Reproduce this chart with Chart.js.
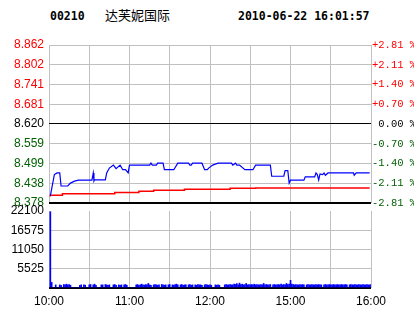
<!DOCTYPE html>
<html>
<head>
<meta charset="utf-8">
<script src="https://cdn.jsdelivr.net/npm/chart.js@4.4.0/dist/chart.umd.min.js"></script>
<style>
    body { margin: 0; background: #fff; width: 414px; height: 314px; overflow: hidden; position: relative; }
    canvas { position: absolute; left: 0; top: 0; }
    .hd { position: absolute; top: 11px; font: bold 11.5px "DejaVu Sans Mono", monospace; line-height: 11px; color: #000; }
    #name { position: absolute; left: 105px; top: 8px; font: 13px "Noto Sans CJK SC", sans-serif; line-height: 13px; color: #000; }
</style>
</head>
<body>
<div class="hd" style="left:50px">00210</div>
<div id="name">达芙妮国际</div>
<div class="hd" style="left:238px">2010-06-22 16:01:57</div>
<canvas id="price-chart" width="414" height="314"></canvas>
<canvas id="volume-chart" width="414" height="314"></canvas>
<script>
// eje de precios (de abajo hacia arriba), cierre anterior 8.620
var priceLabels = ['8.378', '8.438', '8.499', '8.559', '8.620', '8.681', '8.741', '8.802', '8.862'];
var pctLabels = ['-2.81', '-2.11', '-1.40', '-0.70', '0.00', '+0.70', '+1.40', '+2.11', '+2.81'];
var priceMin = 8.378, priceMax = 8.862;

// eje de tiempo: minutos desde las 10:00 (mañana 10:00-12:30, tarde 14:30-16:00)
var timeLabels = ['10:00', '', '11:00', '', '12:00', '', '15:00', '', '16:00'];

// precio (línea azul)
var lineMinutes = [1, 4, 6, 8, 9, 14, 16, 19, 22, 32, 33, 33.5, 34, 42, 43, 45, 48, 50, 53, 55, 57, 59, 60,
    75, 76, 77, 80, 81, 85, 86, 93, 96, 104, 105, 106, 107, 114, 116, 118, 119, 122, 126, 136, 137, 139, 140,
    142, 146, 152, 154, 165, 166, 175, 176, 178, 179, 180, 190, 191, 198, 199, 200, 201, 202, 204, 205, 206,
    208, 227, 227.5, 229, 239];
var linePrices = [8.400, 8.465, 8.470, 8.470, 8.430, 8.430, 8.439, 8.445, 8.448, 8.448, 8.470, 8.445, 8.449,
    8.449, 8.470, 8.485, 8.494, 8.483, 8.494, 8.480, 8.480, 8.470, 8.494, 8.494, 8.500, 8.494, 8.494, 8.500,
    8.500, 8.480, 8.480, 8.500, 8.500, 8.494, 8.494, 8.500, 8.500, 8.480, 8.480, 8.485, 8.494, 8.500, 8.500,
    8.494, 8.500, 8.494, 8.494, 8.480, 8.480, 8.494, 8.494, 8.460, 8.460, 8.477, 8.477, 8.439, 8.448, 8.448,
    8.458, 8.458, 8.470, 8.465, 8.448, 8.467, 8.465, 8.470, 8.463, 8.470, 8.470, 8.463, 8.470, 8.470];

// precio promedio (línea roja)
var avgMinutes = [1, 10, 49, 67, 78, 101, 135, 154, 191, 239];
var avgPrices = [8.398, 8.402, 8.406, 8.410, 8.414, 8.417, 8.420, 8.423, 8.424, 8.424];

// volumen por minuto desde las 10:01
var volTickLabels = ['', '5525', '11050', '16575', '22100'];
var volumes = [
    21900, 1600, 0, 0, 900, 0, 0, 900, 800, 0, 1000, 900, 1100, 900, 1000, 800, 0, 0, 0, 0, 0, 0, 800, 900, 0, 900, 800, 0, 0, 900,
    1000, 0, 900, 1100, 800, 0, 0, 0, 900, 900, 0, 1000, 900, 800, 900, 0, 0, 900, 1000, 800, 0, 900, 800, 900, 0, 900, 1000, 800, 0, 0,
    0, 0, 0, 0, 900, 1000, 800, 900, 1100, 900, 800, 1000, 900, 1300, 900, 800, 0, 900, 1000, 900, 800, 900, 0, 1000, 900, 800, 900, 0, 900, 1000,
    0, 900, 800, 1000, 1100, 900, 0, 900, 1000, 800, 900, 900, 0, 900, 1000, 800, 900, 0, 900, 800, 1000, 900, 900, 800, 0, 900, 1000, 900, 800, 900,
    800, 0, 0, 900, 800, 900, 800, 0, 0, 0, 900, 1000, 900, 900, 1000, 900, 900, 1100, 1000, 1300, 900, 1400, 1000, 1100, 900, 1000, 1300, 900, 1000, 900,
    1000, 900, 1100, 900, 1000, 900, 900, 1000, 900, 1300, 900, 1000, 900, 900, 1000, 0, 900, 1000, 900, 900, 1000, 900, 1100, 900, 1000, 900, 1300, 1000, 1100, 2200,
    1100, 1000, 900, 1000, 900, 900, 1000, 900, 1000, 900, 0, 900, 1000, 900, 900, 1000, 900, 900, 1000, 900, 1000, 900, 900, 0, 900, 1000, 900, 900, 1000, 900,
    900, 1000, 900, 900, 1000, 900, 900, 1000, 900, 900, 1000, 900, 0, 900, 1000, 900, 900, 1000, 900, 900, 1000, 900, 900, 1000, 900, 900, 1000, 900, 900, 1000
];

var GRIS = '#c0c0c0';
var ROJO = '#ff0000';
var VERDE = '#005f00';
var fuenteEje = { family: '"Liberation Sans", Arial, sans-serif', size: 12 };

function colorEtiqueta(i) {
    if (i > 4) return ROJO;
    if (i === 4) return '#000';
    return VERDE;
}

function ticksPrecio(s) {
    s.ticks = priceLabels.map(function (e, i) {
        return { value: priceMin + i * (priceMax - priceMin) / 8 };
    });
}

// gráfico de precios
new Chart(document.getElementById('price-chart'), {
    type: 'line',
    data: {
        datasets: [{
            data: lineMinutes.map(function (m, i) { return { x: m, y: linePrices[i] }; }),
            borderColor: '#0000ff',
            borderWidth: 1.2,
            pointRadius: 0,
            tension: 0,
            yAxisID: 'y'
        }, {
            data: avgMinutes.map(function (m, i) { return { x: m, y: avgPrices[i] }; }),
            borderColor: ROJO,
            borderWidth: 1.5,
            pointRadius: 0,
            stepped: 'after',
            yAxisID: 'y'
        }]
    },
    options: {
        responsive: false,
        animation: false,
        events: [],
        layout: { padding: { top: 45, bottom: 111, left: 0, right: 0 } },
        plugins: { legend: { display: false }, tooltip: { enabled: false } },
        scales: {
            x: {
                type: 'linear', min: 0, max: 240,
                ticks: { display: false, stepSize: 30 },
                grid: { color: GRIS, drawTicks: false },
                border: { display: false },
                afterFit: function (s) { s.height = 0; }
            },
            y: {
                position: 'left', min: priceMin, max: priceMax,
                afterBuildTicks: ticksPrecio,
                ticks: {
                    padding: 5,
                    font: fuenteEje,
                    color: function (ctx) { return colorEtiqueta(ctx.index); },
                    callback: function (v, i) { return priceLabels[i]; }
                },
                grid: {
                    drawTicks: false,
                    color: function (ctx) { return (ctx.index === 0 || ctx.index === 4) ? '#000' : GRIS; },
                    lineWidth: function (ctx) { return ctx.index === 0 ? 2 : 1; }
                },
                border: { display: false },
                afterFit: function (s) { s.width = 49; }
            },
            y2: {
                position: 'right', min: priceMin, max: priceMax,
                afterBuildTicks: ticksPrecio,
                ticks: {
                    padding: 1,
                    font: { family: '"Liberation Mono", monospace', size: 10.5 },
                    color: function (ctx) { return colorEtiqueta(ctx.index); },
                    callback: function (v, i) { return pctLabels[i].padStart(5, ' ') + ' %'; }
                },
                grid: { display: false, drawTicks: false },
                border: { display: false },
                afterFit: function (s) { s.width = 43; }
            }
        }
    }
});

// gráfico de volumen
new Chart(document.getElementById('volume-chart'), {
    type: 'bar',
    data: {
        datasets: [{
            data: volumes.map(function (v, i) { return { x: i + 1, y: v }; }),
            backgroundColor: '#0000ff',
            borderWidth: 0,
            barThickness: 1
        }]
    },
    options: {
        responsive: false,
        animation: false,
        events: [],
        layout: { padding: { top: 211, bottom: 0, left: 0, right: 43 } },
        plugins: { legend: { display: false }, tooltip: { enabled: false } },
        scales: {
            x: {
                type: 'linear', min: 0, max: 240, offset: false,
                ticks: {
                    stepSize: 30, autoSkip: false, maxRotation: 0, padding: 6,
                    font: fuenteEje, color: '#000',
                    callback: function (v, i) { return timeLabels[i]; }
                },
                grid: { color: GRIS, drawTicks: false, offset: false },
                border: { display: false },
                afterFit: function (s) { s.height = 26; }
            },
            y: {
                min: 0, max: 22100,
                afterBuildTicks: function (s) {
                    s.ticks = volTickLabels.map(function (e, i) { return { value: i * 5525 }; });
                },
                ticks: {
                    padding: 5, font: fuenteEje, color: '#000',
                    callback: function (v, i) { return volTickLabels[i]; }
                },
                grid: {
                    drawTicks: false,
                    color: function (ctx) {
                        if (ctx.index === 0) return '#000';
                        if (ctx.index === 4) return 'rgba(0,0,0,0)';
                        return GRIS;
                    },
                    lineWidth: function (ctx) { return ctx.index === 0 ? 2 : 1; }
                },
                border: { display: false },
                afterFit: function (s) { s.width = 49; }
            }
        }
    }
});
</script>
</body>
</html>
